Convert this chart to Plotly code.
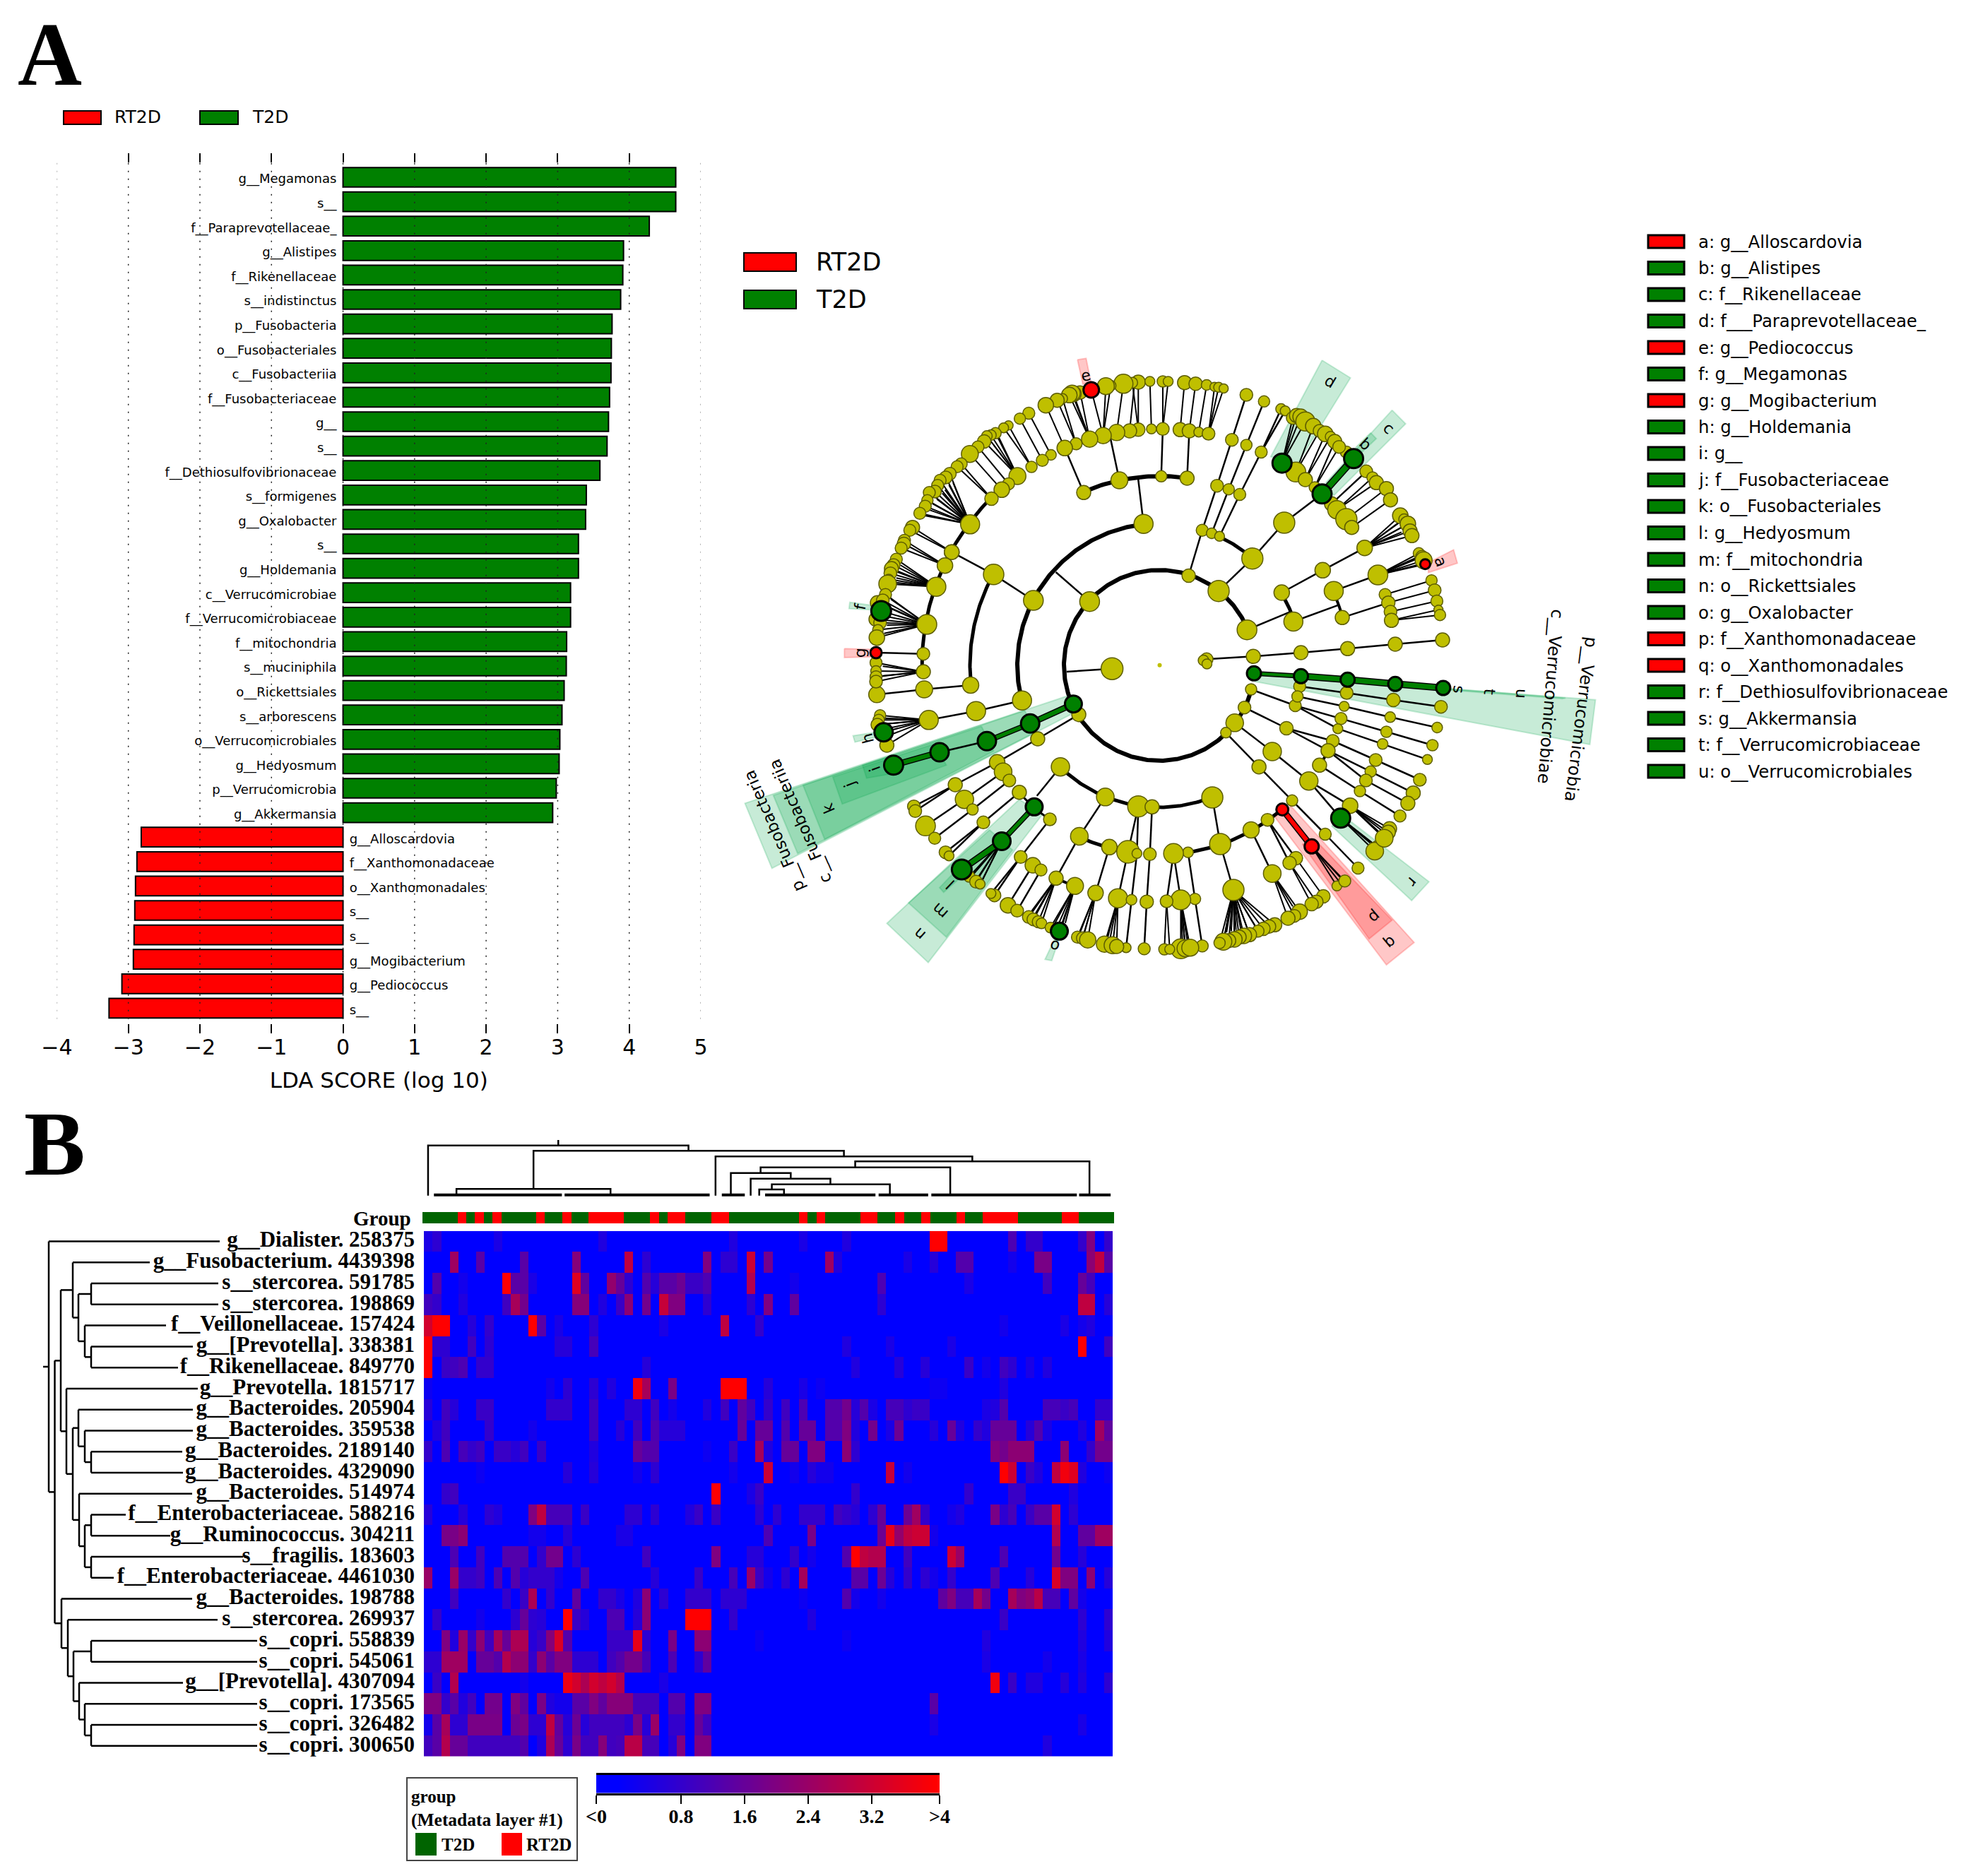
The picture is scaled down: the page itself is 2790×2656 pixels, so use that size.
import math
from collections import defaultdict
import numpy as np
import plotly.graph_objects as go

W, H = 2790, 2656
PAGE_OFFSET = 8   # the page's own margin, taken off every placement

# ---------- Panel A: LDA scores ----------
lda_labels = ["g__Megamonas","s__","f__Paraprevotellaceae_","g__Alistipes","f__Rikenellaceae","s__indistinctus",
 "p__Fusobacteria","o__Fusobacteriales","c__Fusobacteriia","f__Fusobacteriaceae","g__","s__",
 "f__Dethiosulfovibrionaceae","s__formigenes","g__Oxalobacter","s__","g__Holdemania","c__Verrucomicrobiae",
 "f__Verrucomicrobiaceae","f__mitochondria","s__muciniphila","o__Rickettsiales","s__arborescens",
 "o__Verrucomicrobiales","g__Hedyosmum","p__Verrucomicrobia","g__Akkermansia"]
lda_values = [4.65,4.65,4.28,3.92,3.91,3.88,3.76,3.75,3.745,3.725,3.71,3.69,3.59,3.40,3.39,3.29,3.29,3.18,3.18,
 3.125,3.12,3.09,3.06,3.03,3.02,2.98,2.93]
rt_labels = ["g__Alloscardovia","f__Xanthomonadaceae","o__Xanthomonadales","s__","s__","g__Mogibacterium","g__Pediococcus","s__"]
rt_values = [-2.82,-2.88,-2.90,-2.91,-2.92,-2.93,-3.09,-3.27]
lda_ticks = [-4,-3,-2,-1,0,1,2,3,4,5]

clade_legend = ["a: g__Alloscardovia","b: g__Alistipes","c: f__Rikenellaceae","d: f___Paraprevotellaceae_","e: g__Pediococcus",
 "f: g__Megamonas","g: g__Mogibacterium","h: g__Holdemania","i: g__","j: f__Fusobacteriaceae","k: o__Fusobacteriales",
 "l: g__Hedyosmum","m: f__mitochondria","n: o__Rickettsiales","o: g__Oxalobacter","p: f__Xanthomonadaceae",
 "q: o__Xanthomonadales","r: f__Dethiosulfovibrionaceae","s: g__Akkermansia","t: f__Verrucomicrobiaceae","u: o__Verrucomicrobiales"]
clade_legend_groups = "RTTTRTRTTTTTTTTRRTTTT"

# ---------- Panel A: cladogram, digitised per picture region ----------
CX, CY = 1641, 942
REG = {3:(1020,460,2.613,3),4:(1600,460,2.24,3),5:(1020,900,2.613,3),6:(1600,900,2.24,3)}

ring_arcs = [(135,14.7,338,6),(201,165.6,263.6,6),(201,287.7,311.2,5),(201,68,134,5),(201,330,342,5),
 (268,174,209,5),(268,246,278.4,6),(268,105.4,115.3,5),(268,49.5,81.2,5),(268,27,32,4),(268,337,345,4),(268,125.4,137.7,3),
 (336,178.5,224.8,5),(335,111,116,4),(336,225,232,3)]

chains3 = [(2.5,[(1010,1060,29),(855,965,21)]),(2.5,[(1010,1060,0),(1157,1170,28)]),(2.5,[(1240,1050,0),(1365,1175,28)]),
 (2.5,[(1343,712,20),(1273,523,0)]),(2.5,[(1475,660,24),(1440,470,0)])]
fans3 = [((1545,445,19),[(1545,243,20),(1523,245,15)]),((1513,450,20),[(1530,260,0)]),((1465,457,23),[(1490,250,27)]),
 ((1415,470,23),[(1443,258,15),(1425,260,24),(1371,276,22,'r')]),
 ((1365,485,23),[(1330,287,19),(1305,293,22),(1300,290,23),(1290,298,22)]),((1315,505,17),[(1265,313,14),(1245,320,20)]),
 ((1273,523,22),[(1203,341,22)]),((1222,552,15),[(1140,375,17)]),((1190,575,17),[(1107,398,16)]),
 ((1150,603,16),[(1065,427,13),(1047,437,14)]),((1098,642,24),[(1017,460,16),(1000,468,15),(985,472,15),(975,495,19),(1010,510,0),(1030,480,0)]),
 ((1065,675,17),[(952,518,17)]),((1040,700,22),[(922,548,24)]),((1002,738,19),[(890,590,17),(875,602,17)]),
 ((923,847,27),[(848,632,18),(833,648,18),(812,660,17),(803,682,17),(793,708,18),(772,712,17),(765,745,16),(757,770,17),(737,800,17),
   (860,670,0),(845,680,0),(830,700,0),(820,715,0),(800,740,0),(785,760,0),(770,785,0),(755,810,0)]),
 ((855,965,21),[(710,860,20),(700,872,17)]),((830,1022,22),[(680,915,17),(678,930,19),(668,948,17)]),
 ((798,1112,27),[(650,995,17),(640,1020,18),(632,1035,20),(628,1055,18),(622,1080,14),(618,1100,25),(665,1020,0),(655,1050,0),(650,1075,0),(650,1095,0)]),
 ((763,1272,28),[(575,1250,20),(580,1180,20),(610,1145,17),(600,1170,18),(594,1215,28,'g'),(590,1265,18),(582,1295,15),(578,1328,22),
   (630,1165,0),(625,1200,0),(620,1240,0),(615,1275,0),(605,1310,0)])]

chains4 = [(2.5,[(185,1065,19),(228,872,17),(275,683,18),(322,488,18),(368,297,18)]),
 (2.5,[(258,885,15),(312,698,16),(368,510,16),(424,325,16)]),(2.5,[(283,898,14),(347,720,17),(415,540,17),(478,357,15)]),
 (2.5,[(415,540,0),(491,365,14)]),(2.5,[(280,1130,30),(387,992,30),(488,840,30),(608,718,27,'g')]),
 (2.5,[(98,643,16),(103,442,0)]),(2.5,[(180,651,20),(187,450,0)]),(2.5,[(42,845,27),(25,655,0)]),
 (2.5,[(480,1137,22),(610,1042,22),(743,947,22)]),(2.5,[(645,1130,27),(785,1062,28)]),(2.5,[(370,1295,28),(505,1220,0)]),
 (2.5,[(517,1260,27),(660,1190,0)]),(2.5,[(672,1243,20),(818,1180,0)]),
 (8,[(608,718,0),(708,568,27,'g')],'g'),(2.5,[(685,540,17)]),(2.5,[(93,1445,6,'c')]),
 (2.5,[(242,1420,18),(390,1408,20),(541,1392,20),(689,1375,20),(840,1356,20),(990,1338,20)]),(2.5,[(232,1425,15)]),(2.5,[(243,1440,14)])]
fans4 = [((67,442,14),[(62,240,14)]),((103,442,18),[(103,240,16),(120,240,14)]),((158,445,20),[(172,245,20)]),
 ((187,450,20),[(207,250,19)]),((217,455,14),[(242,255,15)]),((248,462,18),[(267,263,13),(280,265,14),(296,270,13)]),
 ((481,587,27,'g'),[(515,395,18),(527,385,20),(540,390,22),(555,410,27)]),((525,625,28),[(580,430,22),(600,450,18)]),
 ((555,657,20),[(618,463,22),(635,475,15)]),((585,690,16),[(648,495,20),(662,518,18)]),
 ((638,760,20),[(735,640,0),(748,622,18)]),((655,785,26),[(768,648,16),(780,670,20)]),((685,825,30),[(812,695,20)]),
 ((702,860,20),[(825,743,20)]),
 ((743,947,0),[(856,810,22),(868,825,15),(880,845,22),(887,875,20),(893,895,20),(850,840,0),(860,860,0),(860,880,0)]),
 ((785,1062,0),[(915,970,16),(925,985,18),(930,1000,24),(935,1016,14,'r'),(905,990,0),(910,1020,0)]),
 ((808,1145,17),[(955,1085,16)]),((818,1180,19),[(965,1127,18)]),((825,1218,18),[(972,1173,17)]),
 ((828,1255,20),[(977,1210,13),(982,1232,16)])]

chains5 = [(2.5,[(1280,153,0),(1448,140,31)]),(6,[(1305,290,24,'g'),(1145,373,26,'g')],'g'),(5,[(1145,373,0),(985,448,26,'g')],'g'),
 (2.5,[(985,448,0),(810,495,26,'g')]),(6,[(810,495,0),(640,550,27,'g')],'g'),
 (2.5,[(1325,335,20),(1173,438,20),(1023,538,22),(868,633,20),(715,725,18)]),(2.5,[(868,633,0),(720,745,18)]),
 (2.5,[(1045,578,25),(902,695,26),(758,808,28)]),(2.5,[(1068,615,18),(932,738,16),(792,860,17)]),
 (2.5,[(1105,665,20),(972,793,18),(832,920,18)]),(2.5,[(972,793,0),(845,935,14)]),
 (5,[(1160,727,24,'g'),(1040,873,25,'g')],'g'),(7,[(1040,873,0),(892,993,28,'g')],'g'),
 (2.5,[(1218,780,18),(1110,940,18),(1013,1103,18)]),(2.5,[(1110,940,0),(1000,1095,14)]),(2.5,[(1257,557,26),(1170,680,0)]),
 (2.5,[(1423,685,25),(1327,852,25),(1241,1030,20)]),(2.5,[(1438,898,22),(1387,1093,22)]),
 (2.5,[(1545,725,30),(1507,918,32),(1470,1115,27)]),(2.5,[(1545,725,0),(1540,925,14),(1520,1122,15),(1500,1325,14)]),
 (2.5,[(925,210,23),(753,228,24),(578,250,23)]),(2.5,[(1115,275,27),(945,320,27),(770,358,27)]),
 (2.5,[(1155,975,22),(1063,1145,22)]),(2.5,[(1185,995,17),(1097,1168,18)]),(2.5,[(750,77,18),(575,72,16,'r')])]
fans5 = [((750,153,20),[(575,115,17),(575,150,15),(575,175,17),(575,195,18),(600,130,0),(600,170,0)]),
 ((770,358,0),[(590,338,16),(585,358,16),(580,378,18),(615,465,20),(603,410,26,'g'),(600,350,0),(605,375,0),(610,395,0),(620,425,0)]),
 ((1040,873,0),[(920,1023,16),(945,1045,18),(960,1055,14),(930,1020,0),(950,1030,0),(970,1035,0)]),
 ((1241,1030,0),[(1140,1195,18),(1157,1205,18),(1175,1215,17),(1187,1222,15),(1150,1170,0),(1165,1180,0)]),
 ((1311,1063,24),[(1220,1240,15),(1253,1255,24,'g'),(1235,1225,0),(1250,1225,0),(1265,1225,0),(1275,1220,0)]),
 ((1387,1093,0),[(1320,1280,17),(1340,1285,18),(1358,1292,23),(1330,1260,0),(1345,1260,0)]),
 ((1470,1115,0),[(1420,1310,23),(1450,1315,24),(1465,1320,20),(1430,1290,0),(1440,1290,0)])]

chains6 = [(4,[(392,160,20,'g'),(541,172,20,'g')],'g'),(7,[(541,172,0),(689,187,20,'g'),(840,205,20,'g'),(992,222,20,'g')],'g'),
 (2.5,[(383,228,16),(523,297,17),(668,352,17),(812,408,16),(958,465,16)]),(2.5,[(537,215,17),(686,243,18),(834,273,19),(985,302,18)]),
 (2.5,[(530,258,16),(678,300,14),(824,346,15),(973,390,15)]),(2.5,[(523,297,0),(658,395,14),(800,460,15),(942,526,14)]),
 (2.5,[(362,305,18),(495,393,19),(642,447,18),(778,528,18),(918,612,18)]),(2.5,[(495,393,0),(627,488,20),(762,577,16),(897,668,20)]),
 (2.5,[(627,488,0),(747,615,18),(880,712,20)]),(2.5,[(600,550,20),(728,660,16),(855,766,17)]),
 (2.5,[(331,370,25),(450,492,26),(566,617,26),(697,722,22)]),(2.5,[(566,617,0),(667,775,27,'g')]),
 (2.5,[(303,412,15),(408,557,20),(513,700,16),(618,843,17),(722,987,17)]),(6,[(482,738,17,'r'),(575,895,20,'r')],'r'),
 (2.5,[(435,782,18),(525,945,19)]),(2.5,[(435,782,0),(505,965,19)]),(2.5,[(383,825,23),(450,1010,25)]),
 (2.5,[(260,687,30),(285,885,30),(327,1080,30)]),(2.5,[(183,920,15),(205,1118,16),(228,1318,17)]),
 (2.5,[(137,925,28),(160,1122,28)]),(2.5,[(137,925,0),(115,1128,18)]),(2.5,[(69,727,20),(62,928,18),(52,1130,19),(44,1330,17)])]
fans6 = [((575,895,0),[(655,1063,14),(680,1042,17),(660,1040,0),(668,1030,0)]),((525,945,0),[(612,1107,19)]),
 ((505,965,0),[(590,1130,19),(575,1140,19)]),((450,1010,0),[(537,1172,22),(520,1190,18),(500,1200,20),(515,1150,0)]),
 ((327,1080,0),[(458,1228,20),(440,1235,19),(422,1245,19),(405,1255,17),(378,1270,20),(360,1275,22),(345,1280,20),(330,1290,22),(312,1295,20),
   (295,1300,24),(283,1305,16),(395,1230,0),(370,1240,0),(350,1245,0),(335,1250,0),(320,1255,0),(305,1260,0),(300,1265,0)]),
 ((160,1122,0),[(160,1330,28),(175,1328,24),(190,1325,24),(165,1290,0),(172,1290,0),(180,1290,0)]),
 ((115,1128,0),[(108,1332,16),(125,1332,14)]),((667,775,0),[(782,895,16),(775,915,25),(760,880,0),(770,885,0)]),
 ((697,722,0),[(822,820,20),(818,835,20),(805,860,25),(795,825,0),(790,835,0)])]

wedges_green = [(5,[(1285,255),(90,712),(190,988),(1295,335)]),(5,[(1125,318),(195,678),(285,925),(1165,410)]),
 (5,[(965,385),(305,635),(385,865),(1010,490)]),(5,[(790,460),(415,600),(450,715),(835,550)]),(5,[(620,515),(525,550),(540,605),(640,585)]),
 (5,[(1105,695),(615,1222),(768,1388),(1190,760)]),(5,[(995,825),(695,1135),(835,1280),(1080,910)]),(5,[(860,1010),(810,1070),(825,1090),(885,1030)]),
 (5,[(1235,1290),(1200,1375),(1225,1380),(1250,1295)]),(5,[(575,410),(490,425),(497,452),(580,430)]),
 (3,[(555,1190),(478,1178),(475,1205),(555,1210)]),(4,[(830,362),(873,420),(645,725),(620,670)]),(4,[(762,458),(780,483),(735,540),(715,520)]),
 (4,[(608,150),(698,225),(530,590),(445,560)]),(6,[(395,165),(1475,272),(1457,462),(395,195)]),(6,[(560,175),(1380,265),(1370,268),(560,185)]),
 (6,[(638,808),(690,780),(947,1045),(892,1125)])]
wedges_red = [(3,[(1320,148),(1352,142),(1370,245),(1340,252)]),(3,[(458,1375),(458,1413),(555,1410),(555,1378)]),
 (4,[(945,1010),(1025,955),(1037,1012),(945,1052)]),(6,[(458,770),(510,725),(900,1303),(812,1398)]),(6,[(545,885),(595,880),(830,1208),(757,1288)])]
clade_letters = [(3,'e',1352,213),(3,'f',515,1197),(5,'g',515,72),(4,'a',985,1005),(4,'b',745,505),(4,'c',820,438),(4,'d',635,240),
 (5,'h',545,437),(5,'i',570,565),(5,'j',478,632),(5,'k',398,735),(5,'l',850,1055),(5,'m',810,1170),(5,'n',735,1267),(5,'o',1235,1320),
 (6,'p',775,1195),(6,'q',825,1305),(6,'r',895,1047),(6,'s',1043,228),(6,'t',1140,240),(6,'u',1240,245)]
clade_names = [(5,'p__Fusobacteria',197,830),(5,'c__Fusobacteriia',295,787),(6,'p__Verrucomicrobia',1428,355),(6,'c__Verrucomicrobiae',1332,258)]

# ---------- Panel B: heatmap ----------
row_labels = ["g__Dialister. 258375","g__Fusobacterium. 4439398","s__stercorea. 591785","s__stercorea. 198869","f__Veillonellaceae. 157424",
 "g__[Prevotella]. 338381","f__Rikenellaceae. 849770","g__Prevotella. 1815717","g__Bacteroides. 205904","g__Bacteroides. 359538",
 "g__Bacteroides. 2189140","g__Bacteroides. 4329090","g__Bacteroides. 514974","f__Enterobacteriaceae. 588216","g__Ruminococcus. 304211",
 "s__fragilis. 183603","f__Enterobacteriaceae. 4461030","g__Bacteroides. 198788","s__stercorea. 269937","s__copri. 558839","s__copri. 545061",
 "g__[Prevotella]. 4307094","s__copri. 173565","s__copri. 326482","s__copri. 300650"]
N_COLS = 79
group_red_cols = [4,6,8,13,16,19,20,21,22,26,28,29,33,34,43,45,50,51,54,57,61,64,65,66,67,73,74]
heat_sparse = [
 [(0,.4),(1,.7),(8,.4),(20,.5),(35,.5),(43,.4),(48,.5),(58,59,4),(67,1.2),(69,70,.8),(75,.8),(76,2),(78,.8)],
 [(3,2.5),(6,1.4),(11,1.4),(17,2.1),(23,3),(25,.7),(32,2),(34,35,.7),(37,3.2),(39,1.8),(46,2.5),(47,.5),(55,.4),(58,.6),(61,62,1.3),(67,.3),(70,71,1.9),(76,2.2),(77,3),(78,1.4)],
 [(1,1.3),(4,.3),(9,4),(10,11,1.4),(12,.4),(17,3.5),(18,1.5),(21,2.3),(22,1.6),(23,.7),(25,1.3),(26,.6),(27,28,1.4),(29,1.7),(30,31,.9),(32,1.2),(37,2.8),(42,.3),(52,1.2),(62,.4),(71,1),(75,1.6),(76,1.1)],
 [(0,1),(1,.8),(4,.5),(9,1),(10,2.6),(11,1.8),(17,18,2.1),(20,.5),(22,.9),(23,2.2),(25,1.8),(27,3.1),(28,29,2),(32,.7),(37,.7),(39,2),(42,1.5),(52,.7),(75,76,3),(78,.6)],
 [(0,3.3),(1,2,4),(5,.6),(7,.8),(12,4),(13,1.4),(15,.4),(19,.7),(27,.4),(34,3),(38,.8),(66,.3),(73,.4),(75,.3),(76,.5)],
 [(0,4),(1,2,.7),(5,1),(7,.7),(15,16,.6),(19,1.1),(48,.5),(53,.4),(60,.4),(75,4),(78,1)],
 [(0,4),(2,.9),(3,1),(4,1.2),(6,7,.8),(25,.6),(49,.5),(54,.6),(57,.6),(62,.9),(64,.3),(66,1),(67,.7),(69,.4),(71,.5)],
 [(0,.2),(14,.3),(16,.7),(19,.7),(21,.5),(24,3.8),(25,2.6),(28,1.9),(34,36,4),(39,.6),(43,.4),(45,.2),(58,59,.2),(66,.5)],
 [(0,.6),(2,1),(3,.6),(6,7,.9),(14,16,.8),(19,1),(23,24,.7),(26,1),(28,.3),(32,.5),(34,1),(36,1.5),(37,1),(39,.8),(41,1),(43,1.2),(46,47,1.3),(48,1.8),(49,.6),(50,1.3),(51,.4),(53,54,1.1),(55,.7),(56,57,.9),(64,.4),(65,.5),(66,1.3),(71,72,1.1),(73,.9),(74,1.1),(77,78,.8)],
 [(1,.5),(2,1),(7,.8),(12,.3),(19,1),(22,.6),(24,1),(26,1.2),(27,29,.6),(36,1.6),(38,39,1.6),(41,1.3),(43,44,1.6),(46,47,1.3),(48,2),(49,.5),(51,1.8),(53,.4),(54,1.7),(58,.6),(60,1.6),(61,.5),(63,.8),(64,.5),(65,67,1.6),(69,.6),(70,1.3),(71,.4),(75,.5),(77,2.5),(78,1.5)],
 [(0,.8),(2,1.2),(4,1.1),(5,.8),(6,1),(8,9,.9),(10,.6),(11,1),(13,.9),(19,.5),(24,1.6),(25,26,1.3),(32,.2),(35,.9),(38,2.6),(39,.5),(41,42,1.6),(44,45,2),(48,2.2),(49,.7),(65,2),(66,1.8),(67,69,2.2),(73,2.2),(76,.8),(77,78,1.8)],
 [(6,.2),(16,.6),(19,.6),(24,.3),(26,.7),(35,.3),(39,3.2),(42,.3),(44,.6),(45,46,.3),(53,3.1),(55,.3),(66,4),(67,3.2),(69,.9),(70,.5),(72,3),(73,3.8),(74,3.5),(75,.5),(78,.2)],
 [(2,.8),(3,1),(33,4),(37,.4),(38,.9),(49,.8),(62,.8),(67,68,.9),(74,.5)],
 [(0,.6),(4,.6),(7,.7),(8,.5),(12,2),(13,3),(14,16,1.1),(18,.9),(23,24,.7),(26,.7),(30,.5),(31,.9),(33,.9),(38,.7),(40,.7),(43,45,.8),(47,1),(48,.8),(49,.6),(51,.7),(52,1.6),(55,1.7),(56,2.5),(57,.8),(60,.3),(61,.5),(65,1.9),(66,.7),(67,1.1),(69,.9),(70,71,1.4),(72,3.3),(74,.7)],
 [(2,3,1.9),(4,2.2),(12,13,.3),(16,.6),(22,23,.4),(39,1.2),(44,1.9),(52,1.7),(53,3.6),(54,2.3),(55,3),(56,57,3.2),(58,.3),(72,2.8),(75,76,1.5),(77,78,2.5)],
 [(3,1.2),(6,1),(9,11,1.3),(13,.8),(14,15,1.8),(17,.7),(25,1),(33,2),(37,38,.6),(42,.8),(44,.3),(48,1.3),(49,4),(50,3),(51,52,2.8),(55,1),(60,3.2),(61,2.4),(66,1.2),(72,1.8),(75,.6)],
 [(0,2.4),(3,2.4),(4,5,.8),(6,1),(8,1.2),(10,1.3),(11,.6),(12,14,.8),(15,.3),(18,1.2),(26,.6),(31,.9),(35,1.1),(37,2.4),(38,.9),(39,.3),(41,.7),(43,2.6),(49,50,1.4),(52,1.7),(53,.6),(55,.8),(57,.7),(58,.3),(60,.8),(65,1.2),(69,.6),(72,3.4),(73,74,2),(76,2.2),(78,.6)],
 [(3,1),(9,.8),(11,.9),(12,2.7),(14,.8),(17,1.5),(20,21,.8),(22,.4),(24,.5),(25,2.2),(27,.7),(30,32,.8),(34,36,.7),(43,.2),(48,1.3),(49,.3),(52,.3),(59,1.5),(60,2),(61,62,1.1),(63,2.6),(64,1.8),(67,2.6),(68,2),(69,2.2),(70,2.9),(71,72,1.1),(74,1.5),(75,.3)],
 [(1,.8),(6,.3),(10,.7),(11,1.6),(12,.7),(13,.6),(16,4),(17,.9),(18,.6),(21,22,1.2),(24,.6),(25,2.2),(30,32,4),(35,.8),(44,.5),(66,.9),(75,.7),(78,.7)],
 [(2,2),(3,.5),(4,2.4),(5,.8),(6,2.2),(7,1),(8,2.6),(9,1.6),(10,11,2.7),(12,.6),(13,.9),(14,2.1),(15,3.4),(16,1.3),(21,23,.9),(24,3.6),(25,.7),(28,1.9),(31,32,2.2),(38,.2),(48,.2),(64,.5),(75,.5),(78,.5)],
 [(0,1,.7),(2,4,2.5),(6,7,1.6),(8,1.3),(9,2.8),(10,11,2.2),(12,.8),(13,2.2),(14,1.4),(15,16,2),(17,19,.7),(21,1),(22,1.3),(23,24,1.8),(25,1.1),(28,1.2),(31,.7),(32,1.5),(64,.4),(71,.3),(75,.4)],
 [(1,.9),(3,2.8),(11,.3),(16,3.7),(17,3.3),(18,2.7),(19,3.3),(20,3),(21,3.3),(22,2.8),(27,.4),(65,3.8),(67,.9),(69,70,.5),(73,.6),(75,.5),(78,.7)],
 [(0,1,2),(2,.8),(3,1.4),(4,.5),(5,1),(7,8,1.8),(10,2),(11,1.5),(13,1.9),(14,.5),(15,16,.3),(17,18,1.4),(19,2),(20,1.5),(21,23,2.1),(24,26,1.1),(28,29,1.3),(31,32,2),(58,1.4)],
 [(0,.3),(1,1.4),(2,2.6),(3,4,.7),(5,6,1.9),(7,8,1.9),(10,1.7),(11,1.9),(12,13,.7),(14,3),(15,1.5),(16,.6),(17,1.7),(18,.6),(19,22,1),(23,.7),(24,1.9),(25,.6),(26,2.4),(28,29,.8),(31,1.6),(32,1),(58,.4),(75,.4)],
 [(0,1),(1,1.4),(2,2.8),(3,4,1.6),(5,10,1),(11,1.3),(13,.5),(14,2.7),(15,1.6),(16,.7),(17,1.9),(18,19,1),(20,2.1),(21,1),(22,1.1),(23,24,2.9),(25,26,1.1),(28,.6),(29,2),(31,32,2),(71,.5)],
]
# row dendrogram: (join height, child, child); leaves are (row index, line end)
t_top = (103,(1,212),(111,(129,(2,309),(3,309)),(120,(4,235),(129,(5,273),(6,252)))))
t_bac_a = (111,(8,273),(120,(9,273),(129,(10,258),(11,259))))
t_bac_b = (112,(12,272),(120,(129,(13,178),(14,241)),(129,(15,344),(16,161))))
t_mid = (94,(7,280),(103,t_bac_a,t_bac_b))
t_low = (87,(17,272),(96,(18,308),(104,(129,(19,364),(20,364)),(112,(21,259),(120,(22,364),(129,(23,364),(24,364)))))))
row_tree = (69,(0,311),(77.5,(86,t_top,t_mid),t_low))
# column dendrogram: (x left, x right, height, left child height, right child height)
col_joins = [(25,603,65,278,88),(259,948,88,250,112),(88,430,250,272,272),(663,1233,112,278,133),(973,1493,133,158,272),
 (763,1184,158,182,272),(697,830,182,272,206),(741,918,206,278,230),(788,1050,230,252,272),(760,815,252,278,272)]
col_leaf_runs = [(38,322),(328,650),(677,728),(773,1018),(1025,1135),(1142,1465),(1470,1540)]
cbar_ticks = [-0.267,0.8,1.6,2.4,3.2,4.053]
cbar_labels = ["<0","0.8","1.6","2.4","3.2",">4"]

# ---------- styling ----------
GREEN, RED, DKGREEN, YEL = "#008000", "#ff0000", "#006400", "#bfbf00"
SANS, SERIF = "DejaVu Sans", "Liberation Serif"

fig = go.Figure()
layout = dict(width=W, height=H, autosize=False, margin=dict(l=0, r=0, t=0, b=0, pad=0, autoexpand=False), paper_bgcolor="white", plot_bgcolor="rgba(0,0,0,0)",
              showlegend=False, font=dict(family=SANS, color="black"))

def px_x(x):
    return (x - PAGE_OFFSET) / W
def px_y(y):
    return 1 - (y - PAGE_OFFSET) / H

def axes(n, x0, x1, y0, y1, xr, yr):
    sx = "" if n == 1 else str(n)
    base = dict(visible=False, fixedrange=True)
    layout["xaxis" + sx] = dict(base, domain=[px_x(x0), px_x(x1)], range=list(xr), anchor="y" + sx)
    layout["yaxis" + sx] = dict(base, domain=[px_y(y1), px_y(y0)], range=list(yr), anchor="x" + sx)

# --- bars
BAR0, BAR_STEP = 251, 34.6
ytop, ybot = (217 - BAR0) / BAR_STEP, (1463 - BAR0) / BAR_STEP
axes(1, 80.4, 992, 217, 1463, (-4, 5), (ybot, ytop))
layout["xaxis"].update(visible=True, tickmode="array", tickvals=lda_ticks,
    ticktext=[str(t).replace("-", "\u2212") for t in lda_ticks], ticks="inside", ticklen=13, tickwidth=1.5, tickcolor="black",
    mirror="ticks", showline=True, linecolor="rgba(0,0,0,0)", linewidth=1, showgrid=False, zeroline=False,
    tickfont=dict(family=SANS, size=30), ticklabelstandoff=-7,
    title=dict(text="LDA SCORE (log 10)", font=dict(family=SANS, size=31), standoff=19))
n_g, n_r = len(lda_values), len(rt_values)
idx_g = list(range(n_g)); idx_r = list(range(n_g, n_g + n_r))
fig.add_bar(x=lda_values, y=idx_g, orientation="h", width=0.8, marker=dict(color=GREEN, line=dict(color="black", width=2)), xaxis="x", yaxis="y")
fig.add_bar(x=rt_values, y=idx_r, orientation="h", width=0.8, marker=dict(color=RED, line=dict(color="black", width=2)), xaxis="x", yaxis="y")
gx, gy = [], []
for t in lda_ticks[1:-1]:
    gx += [t, t, None]; gy += [ytop + .4, ybot - .4, None]
fig.add_scatter(x=gx, y=gy, mode="lines", line=dict(color="#222", width=1.5, dash="2px,9px"), xaxis="x", yaxis="y", hoverinfo="skip")
gx, gy = [], []
for t in (lda_ticks[0], lda_ticks[-1]):
    gx += [t, t, None]; gy += [ytop + .4, ybot - .4, None]
fig.add_scatter(x=gx, y=gy, mode="lines", line=dict(color="#999", width=1.5, dash="2px,9px"), xaxis="x", yaxis="y", hoverinfo="skip")
fig.add_scatter(x=[-0.09] * n_g, y=[i + .11 for i in idx_g], text=lda_labels, mode="text", textposition="middle left",
                textfont=dict(family=SANS, size=18), xaxis="x", yaxis="y", hoverinfo="skip")
fig.add_scatter(x=[0.09] * n_r, y=[i + .11 for i in idx_r], text=rt_labels, mode="text", textposition="middle right",
                textfont=dict(family=SANS, size=18), xaxis="x", yaxis="y", hoverinfo="skip")

# --- cladogram
TX0, TX1, TY0, TY1 = 1000, 2300, 480, 1400
axes(2, TX0, TX1, TY0, TY1, (TX0 - CX, TX1 - CX), (TY1 - CY, TY0 - CY))

def txy(reg, x, y):
    ox, oy, fx, fy = REG[reg]
    return ox + x / fx - CX, oy + y / fy - CY

for color, wedge_list in (("0,165,75", wedges_green), ("255,0,0", wedges_red)):
    for reg, pts in wedge_list:
        p = [txy(reg, *q) for q in pts] + [txy(reg, *pts[0])]
        fig.add_scatter(x=[a for a, _ in p], y=[b for _, b in p], mode="lines", fill="toself",
                        fillcolor=f"rgba({color},0.22)", line=dict(color=f"rgba({color},0.2)", width=2),
                        xaxis="x2", yaxis="y2", hoverinfo="skip")

segs = defaultdict(lambda: ([], []))
def add_seg(key, a, b):
    xs, ys = segs[key]
    xs += [a[0], b[0], None]; ys += [a[1], b[1], None]
nodes = []
def add_node(reg, p):
    if p[2] > 0:
        nodes.append((*txy(reg, p[0], p[1]), p[2], p[3] if len(p) > 3 else "y"))
for reg, chains, fans in ((3, chains3, fans3), (4, chains4, fans4), (5, chains5, fans5), (6, chains6, fans6)):
    for ch in chains:
        w, pts = ch[0], ch[1]
        col = ch[2] if len(ch) > 2 else None
        for a, b in zip(pts, pts[1:]):
            pa, pb = txy(reg, a[0], a[1]), txy(reg, b[0], b[1])
            if col:
                add_seg((w + 3, "black", 1), pa, pb)
                add_seg((w, GREEN if col == "g" else RED, 2), pa, pb)
            else:
                add_seg((w, "black", 0), pa, pb)
        for p in pts:
            add_node(reg, p)
    for parent, leaves in fans:
        for lf in leaves:
            add_seg((2, "black", 0), txy(reg, parent[0], parent[1]), txy(reg, lf[0], lf[1]))
            add_node(reg, lf)
        add_node(reg, parent)
for r, a0, a1, w in ring_arcs:
    th = np.radians(np.linspace(a0, a1, max(3, int(abs(a1 - a0) * 1.5))))
    xs, ys = segs[(w, "black", 0)]
    xs += list(r * np.cos(th)) + [None]; ys += list(r * np.sin(th)) + [None]
for key in sorted(segs, key=lambda k: k[2]):
    fig.add_scatter(x=segs[key][0], y=segs[key][1], mode="lines", line=dict(color=key[1], width=key[0]),
                    xaxis="x2", yaxis="y2", hoverinfo="skip", connectgaps=False)
for flag, fill, edge, lw in (("y", YEL, "#5e5e00", 1.5), ("c", YEL, YEL, 0), ("g", GREEN, "black", 3), ("r", RED, "black", 3)):
    sel = [n for n in nodes if n[3] == flag]
    fig.add_scatter(x=[n[0] for n in sel], y=[n[1] for n in sel], mode="markers",
                    marker=dict(size=[n[2] for n in sel], color=fill, opacity=1, line=dict(color=edge, width=lw)),
                    xaxis="x2", yaxis="y2", hoverinfo="skip")

annots, shapes = [], []
def txt(x, y, s, size, family=SANS, xanchor="left", bold=False, angle=0, yanchor="middle", xref="paper", yref="paper"):
    if xref == "paper":
        x, y = px_x(x), px_y(y)
    annots.append(dict(x=x, y=y, xref=xref, yref=yref, text=f"<b>{s}</b>" if bold else s, showarrow=False, xanchor=xanchor, yanchor=yanchor,
                       textangle=angle, font=dict(family=family, size=size, color="black"), borderpad=0, borderwidth=0))
def rect(x0, y0, x1, y1, fill, line="black", lw=2):
    shapes.append(dict(type="rect", xref="paper", yref="paper", x0=px_x(x0), x1=px_x(x1), y0=px_y(y1), y1=px_y(y0),
                       fillcolor=fill, line=dict(color=line, width=lw), layer="above"))
def radial_angle(x, y):
    a = math.degrees(math.atan2(y, x)) + 90
    return (a + 180) % 360 - 180
for reg, s, x, y in clade_letters:
    px, py = txy(reg, x, y)
    txt(px, py, s, 22, xanchor="center", angle=radial_angle(px, py), xref="x2", yref="y2")
for reg, s, x, y in clade_names:
    px, py = txy(reg, x, y)
    txt(px, py, s, 24 if "Verru" in s else 23, xanchor="center", angle=radial_angle(px, py), xref="x2", yref="y2")

# --- panel letters and legends
txt(25, 8, "A", 126, SERIF, bold=True, yanchor="top")
txt(34, 1547, "B", 130, SERIF, bold=True, yanchor="top")
rect(90, 157, 143, 176, RED); txt(162, 166, "RT2D", 25)
rect(283, 157, 337, 176, GREEN); txt(357, 166, "T2D", 25)
rect(1053, 358, 1127, 384, RED); txt(1155, 371, "RT2D", 35)
rect(1053, 411, 1127, 437, GREEN); txt(1155, 424, "T2D", 35)
for i, (s, g) in enumerate(zip(clade_legend, clade_legend_groups)):
    y = 342 + 37.5 * i
    rect(2333, y - 9, 2384, y + 9, RED if g == "R" else GREEN, lw=3)
    txt(2404, y, s, 24.3)

# --- heatmap
HX0, HX1, HY0, HY1 = 600, 1575, 1742.7, 2486.7
heat = np.zeros((len(row_labels), N_COLS))
for r, cells in enumerate(heat_sparse):
    for c in cells:
        if len(c) == 2:
            heat[r, c[0]] = c[1]
        else:
            heat[r, c[0]:c[1] + 1] = c[2]
axes(3, HX0, HX1, HY0, HY1, (-.5, N_COLS - .5), (len(row_labels) - .5, -.5))
BLUE_RED = [[0, "#0000ff"], [1, "#ff0000"]]
fig.add_heatmap(z=heat, zmin=0, zmax=4, colorscale=BLUE_RED, showscale=False, xaxis="x3", yaxis="y3", hoverinfo="skip")

group_row = np.zeros((1, N_COLS))
group_row[0, group_red_cols] = 1
axes(4, 598, 1577, 1716, 1732, (-.5, N_COLS - .5), (.5, -.5))
fig.add_heatmap(z=group_row, zmin=0, zmax=1, colorscale=[[0, DKGREEN], [1, RED]], showscale=False, xaxis="x4", yaxis="y4", hoverinfo="skip")
txt(582, 1725, "Group", 29, SERIF, xanchor="right", bold=True)

# --- row dendrogram (x in picture distance, y = heatmap rows)
layout["xaxis5"] = dict(visible=False, fixedrange=True, domain=[0, px_x(600)], range=[PAGE_OFFSET, 600], anchor="y3")
dx, dy = [], []
def walk(node):
    if len(node) == 2:
        return node[0], node[1]
    h, a, b = node
    pts = []
    for ch in (a, b):
        y, x = walk(ch)
        dx.extend([h, x, None]); dy.extend([y, y, None])
        pts.append(y)
    dx.extend([h, h, None]); dy.extend([pts[0], pts[1], None])
    return (pts[0] + pts[1]) / 2, h
root_y, root_x = walk(row_tree)
dx.extend([root_x - 8, root_x, None]); dy.extend([root_y, root_y, None])
fig.add_scatter(x=dx, y=dy, mode="lines", line=dict(color="black", width=2.5), xaxis="x5", yaxis="y3", hoverinfo="skip")
fig.add_scatter(x=[587] * len(row_labels), y=list(range(len(row_labels))), text=row_labels, mode="text", textposition="middle left",
                textfont=dict(family=SERIF, size=31, weight="bold"), xaxis="x5", yaxis="y3", hoverinfo="skip")

# --- column dendrogram
axes(6, 590, 1590, 1600, 1710, (0, 1568), (330, 0))
cx, cy = [314, 314, None], [42, 65, None]
for xl, xr, h, hl, hr in col_joins:
    cx += [xl, xl, xr, xr, None]; cy += [hl, h, h, hr, None]
fig.add_scatter(x=cx, y=cy, mode="lines", line=dict(color="black", width=2.5), xaxis="x6", yaxis="y6", hoverinfo="skip")
lx, ly = [], []
for a, b in col_leaf_runs:
    lx += [a, b, None]; ly += [275, 275, None]
fig.add_scatter(x=lx, y=ly, mode="lines", line=dict(color="black", width=4), xaxis="x6", yaxis="y6", hoverinfo="skip")

# --- colour bar
axes(7, 844, 1330, 2513, 2538.5, (cbar_ticks[0], cbar_ticks[-1]), (0, 1))
layout["xaxis7"].update(visible=True, tickmode="array", tickvals=cbar_ticks, ticktext=[f"<b>{t}</b>" for t in cbar_labels], ticks="outside", ticklen=12,
    tickwidth=2, tickcolor="black", showline=True, linecolor="black", linewidth=3, mirror=True, showgrid=False, zeroline=False,
    tickfont=dict(family=SERIF, size=28), ticklabelstandoff=-6)
cb_x = np.linspace(cbar_ticks[0], cbar_ticks[-1], 240)
fig.add_heatmap(x=cb_x, y=[0, 1], z=[np.clip(cb_x, 0, 4), np.clip(cb_x, 0, 4)], zmin=0, zmax=4, colorscale=BLUE_RED, showscale=False,
                xaxis="x7", yaxis="y7", hoverinfo="skip")

# --- group box
rect(576, 2517, 817, 2634, "rgba(0,0,0,0)", "#444", 2)
txt(582, 2543, "group", 25, SERIF, bold=True)
txt(582, 2576, "(Metadata layer #1)", 25.5, SERIF, bold=True)
rect(588, 2595, 618, 2627, DKGREEN, DKGREEN, 0); txt(625, 2611, "T2D", 25, SERIF, bold=True)
rect(710, 2595, 739, 2627, RED, RED, 0); txt(745, 2611, "RT2D", 25, SERIF, bold=True)

layout["annotations"] = annots
layout["shapes"] = shapes
fig.update_layout(**layout)
fig.write_html("out.html")
